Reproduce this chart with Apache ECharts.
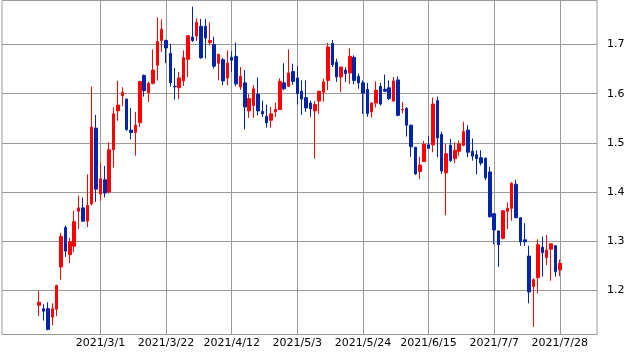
<!DOCTYPE html>
<html><head><meta charset="utf-8">
<script src="https://cdn.jsdelivr.net/npm/echarts@6/dist/echarts.min.js"></script>
<style>html,body{margin:0;padding:0;background:#fff}#c{width:634px;height:354px}</style>
</head><body><div id="c"></div>
<script>
const dates = [
 '2021/2/8','2021/2/9','2021/2/10','2021/2/11','2021/2/12','2021/2/16','2021/2/17','2021/2/18','2021/2/19','2021/2/22','2021/2/23','2021/2/24','2021/2/25','2021/2/26',
 '2021/3/1','2021/3/2','2021/3/3','2021/3/4','2021/3/5','2021/3/8','2021/3/9','2021/3/10','2021/3/11','2021/3/12','2021/3/15','2021/3/16','2021/3/17','2021/3/18','2021/3/19','2021/3/22','2021/3/23','2021/3/24','2021/3/25','2021/3/26','2021/3/29','2021/3/30','2021/3/31',
 '2021/4/1','2021/4/2','2021/4/5','2021/4/6','2021/4/7','2021/4/8','2021/4/9','2021/4/12','2021/4/13','2021/4/14','2021/4/15','2021/4/16','2021/4/19','2021/4/20','2021/4/21','2021/4/22','2021/4/23','2021/4/26','2021/4/27','2021/4/28','2021/4/29','2021/4/30',
 '2021/5/3','2021/5/4','2021/5/5','2021/5/6','2021/5/7','2021/5/10','2021/5/11','2021/5/12','2021/5/13','2021/5/14','2021/5/17','2021/5/18','2021/5/19','2021/5/20','2021/5/21','2021/5/24','2021/5/25','2021/5/26','2021/5/27','2021/5/28',
 '2021/6/1','2021/6/2','2021/6/3','2021/6/4','2021/6/7','2021/6/8','2021/6/9','2021/6/10','2021/6/11','2021/6/14','2021/6/15','2021/6/16','2021/6/17','2021/6/18','2021/6/21','2021/6/22','2021/6/23','2021/6/24','2021/6/25','2021/6/28','2021/6/29','2021/6/30',
 '2021/7/1','2021/7/2','2021/7/6','2021/7/7','2021/7/8','2021/7/9','2021/7/12','2021/7/13','2021/7/14','2021/7/15','2021/7/16','2021/7/19','2021/7/20','2021/7/21','2021/7/22','2021/7/23','2021/7/26','2021/7/27','2021/7/28'
];
const opens = [
 1.170,1.163,1.163,1.146,1.162,1.248,1.328,1.273,1.290,1.361,1.368,1.341,1.376,1.530,
 1.396,1.425,1.400,1.486,1.565,1.596,1.589,1.526,1.521,1.541,1.637,1.602,1.621,1.658,1.708,1.708,1.682,1.615,1.612,1.626,1.670,1.715,1.717,
 1.737,1.737,1.704,1.700,1.662,1.669,1.632,1.674,1.676,1.614,1.622,1.565,1.576,1.599,1.564,1.554,1.546,1.563,1.568,1.622,1.615,1.645,
 1.632,1.605,1.592,1.581,1.565,1.585,1.603,1.627,1.702,1.664,1.634,1.648,1.642,1.674,1.635,1.622,1.609,1.563,1.581,1.615,
 1.609,1.612,1.585,1.628,1.567,1.570,1.536,1.491,1.442,1.462,1.496,1.496,1.586,1.517,1.439,1.495,1.468,1.483,1.495,1.526,1.483,1.476,
 1.470,1.469,1.441,1.356,1.321,1.306,1.361,1.367,1.416,1.348,1.303,1.270,1.208,1.226,1.288,1.267,1.284,1.291,1.242
];
const closes = [
 1.176,1.158,1.121,1.163,1.210,1.310,1.280,1.299,1.340,1.368,1.341,1.373,1.532,1.406,
 1.427,1.398,1.486,1.559,1.577,1.603,1.527,1.521,1.536,1.625,1.606,1.621,1.648,1.706,1.731,1.693,1.622,1.614,1.632,1.673,1.718,1.708,1.745,
 1.673,1.713,1.708,1.656,1.680,1.626,1.662,1.668,1.620,1.635,1.573,1.590,1.610,1.565,1.559,1.541,1.559,1.568,1.625,1.610,1.642,1.625,
 1.600,1.589,1.571,1.569,1.578,1.605,1.624,1.695,1.659,1.634,1.654,1.641,1.676,1.627,1.622,1.601,1.560,1.581,1.607,1.579,
 1.605,1.590,1.626,1.556,1.568,1.536,1.492,1.437,1.455,1.497,1.489,1.579,1.510,1.443,1.478,1.464,1.485,1.498,1.523,1.481,1.473,1.468,
 1.459,1.429,1.350,1.323,1.293,1.362,1.367,1.418,1.348,1.299,1.299,1.197,1.222,1.293,1.277,1.282,1.295,1.238,1.255
];
const lows = [
 1.148,1.139,1.119,1.129,1.148,1.222,1.268,1.256,1.278,1.325,1.340,1.329,1.373,1.380,
 1.382,1.389,1.397,1.450,1.545,1.575,1.525,1.507,1.474,1.532,1.594,1.583,1.619,1.627,1.685,1.662,1.615,1.588,1.589,1.616,1.634,1.705,1.707,
 1.671,1.672,1.698,1.651,1.627,1.617,1.617,1.644,1.615,1.608,1.527,1.551,1.551,1.556,1.553,1.531,1.531,1.553,1.568,1.607,1.614,1.618,
 1.578,1.557,1.563,1.553,1.468,1.559,1.584,1.607,1.654,1.624,1.603,1.624,1.620,1.619,1.610,1.559,1.553,1.552,1.572,1.576,
 1.603,1.587,1.583,1.554,1.560,1.513,1.472,1.435,1.427,1.462,1.488,1.481,1.471,1.437,1.353,1.461,1.459,1.474,1.493,1.471,1.464,1.436,
 1.454,1.424,1.348,1.294,1.248,1.304,1.325,1.342,1.347,1.291,1.291,1.174,1.126,1.194,1.228,1.252,1.220,1.228,1.229
];
const highs = [
 1.199,1.172,1.176,1.174,1.212,1.317,1.332,1.307,1.362,1.393,1.389,1.436,1.615,1.557,
 1.460,1.453,1.501,1.572,1.626,1.613,1.590,1.571,1.563,1.626,1.639,1.625,1.690,1.755,1.751,1.710,1.701,1.652,1.644,1.688,1.719,1.777,1.753,
 1.752,1.752,1.745,1.716,1.681,1.673,1.688,1.686,1.704,1.654,1.648,1.599,1.617,1.633,1.586,1.578,1.573,1.582,1.631,1.662,1.690,1.661,
 1.656,1.627,1.627,1.586,1.585,1.606,1.631,1.703,1.709,1.671,1.655,1.654,1.692,1.678,1.641,1.627,1.622,1.583,1.625,1.622,
 1.639,1.627,1.634,1.635,1.583,1.573,1.537,1.492,1.472,1.504,1.514,1.592,1.594,1.523,1.498,1.508,1.501,1.505,1.543,1.536,1.509,1.485,
 1.485,1.470,1.451,1.357,1.322,1.363,1.379,1.420,1.425,1.349,1.337,1.291,1.225,1.304,1.310,1.313,1.296,1.292,1.263
];
const labelDates = ['2021/3/1','2021/3/22','2021/4/12','2021/5/3','2021/5/24','2021/6/15','2021/7/7','2021/7/28'];

const PAD = 8;
const cats = [], ohlc = [];
for (let k = 0; k < PAD; k++) { cats.push('pre' + k); ohlc.push('-'); }
dates.forEach((d, i) => { cats.push(d); ohlc.push([opens[i], closes[i], lows[i], highs[i]]); });
for (let k = 0; k < PAD; k++) { cats.push('post' + k); ohlc.push('-'); }
const showAt = (idx, val) => labelDates.indexOf(val) >= 0;

const FONT = 'DejaVu Sans';
const chart = echarts.init(document.getElementById('c'), null, {renderer: 'canvas'});
chart.setOption({
  animation: false,
  backgroundColor: '#ffffff',
  grid: {left: 2, right: 37, top: 0.5, bottom: 19.5, show: true, borderColor: '#999999', borderWidth: 1, containLabel: false},
  xAxis: {
    type: 'category', data: cats, boundaryGap: true,
    axisLine: {show: false},
    axisTick: {show: false, alignWithLabel: true, interval: showAt},
    axisLabel: {interval: showAt, color: '#000', fontFamily: FONT, fontSize: 11, margin: 3},
    splitLine: {show: true, alignWithLabel: true, interval: showAt, lineStyle: {color: '#999999', width: 1}}
  },
  yAxis: {
    type: 'value', position: 'right', scale: true,
    min: 1.1106, max: 1.7894, minInterval: 0.1, maxInterval: 0.1,
    axisLine: {show: false}, axisTick: {show: false},
    axisLabel: {color: '#000', fontFamily: FONT, fontSize: 11, margin: 10, showMinLabel: false, showMaxLabel: false,
      formatter: v => v.toFixed(1)},
    splitLine: {show: true, lineStyle: {color: '#999999', width: 1}}
  },
  series: [{
    type: 'candlestick', data: ohlc, barWidth: 3,
    itemStyle: {color: '#ff0000', color0: '#0024a8', borderColor: '#ff0000', borderColor0: '#0024a8', borderWidth: 1}
  }]
});
</script></body></html>
